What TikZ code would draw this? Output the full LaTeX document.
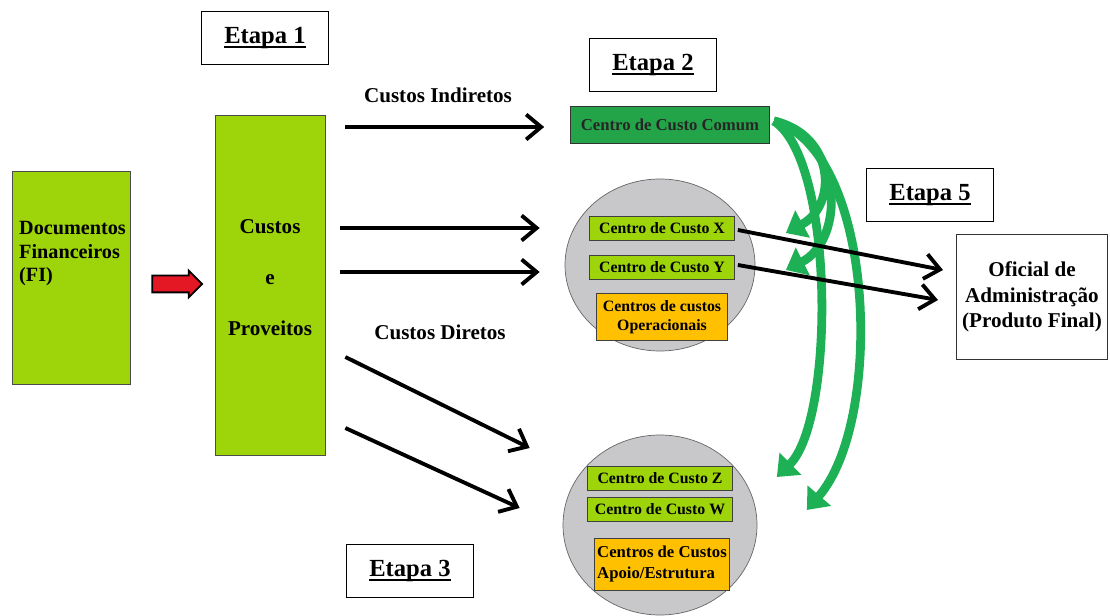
\documentclass[tikz,border=0pt]{standalone}
\usepackage{fontspec}
\setmainfont{Liberation Serif}
\usetikzlibrary{arrows.meta,shapes.geometric,shapes.arrows}
\newcommand{\thickul}[1]{\setbox0\hbox{#1}\rlap{\rule[-2.6pt]{\wd0}{1.2pt}}\box0}
\definecolor{lime}{RGB}{158,212,10}
\definecolor{comum}{RGB}{36,164,72}
\definecolor{arcgreen}{RGB}{30,176,84}
\definecolor{amber}{RGB}{255,192,0}
\definecolor{circgray}{RGB}{200,200,202}
\definecolor{fired}{RGB}{228,24,36}

\begin{document}
\begin{tikzpicture}[x = 0.2mm, y = -0.2mm,
	stagebox/.style = {draw, fill = white, minimum width = 25.5mm, minimum height = 10.5mm, font = \fontsize{14}{16}\selectfont\bfseries},
	limebox/.style = {draw = black!70, fill = lime, font = \fontsize{12}{14.5}\selectfont\bfseries},
	centrebox/.style = {draw = black!75, fill = lime, minimum width = 29mm, minimum height = 4.8mm, inner sep = 1pt, font = \fontsize{9}{10}\selectfont\bfseries},
	amberbox/.style = {draw = black!75, fill = amber, inner sep = 1pt, font = \fontsize{9}{10.5}\selectfont\bfseries},
	pool/.style = {ellipse, draw = black!60, fill = circgray, inner sep = 0pt},
	flowlabel/.style = {font = \fontsize{12}{14}\selectfont\bfseries},
	flow/.style = {line width = 2.2pt, -{Straight Barb[length = 3mm, width = 5mm]}},
	greenflow/.style = {draw = arcgreen, line width = 5pt, -{Triangle[length = 3.8mm, width = 6mm]}}]
	\useasboundingbox (0,0) rectangle (1110,616);
	\node[stagebox] (etapa1) at (265,38) {\thickul{Etapa 1}};
	\node[stagebox] (etapa2) at (653,65) {\thickul{Etapa 2}};
	\node[stagebox] (etapa3) at (410,571) {\thickul{Etapa 3}};
	\node[stagebox] (etapa5) at (930,195) {\thickul{Etapa 5}};
	\node[limebox, minimum width = 23.6mm, minimum height = 42.6mm] (docs) at (71,278) {};
	\node[font = \fontsize{11.5}{13.5}\selectfont\bfseries, align = left, anchor = north west] (docstext) at (13,215) {Documentos\\Financeiros\\(FI)};
	\node[single arrow, draw = black, line width = 1pt, fill = fired, minimum height = 10mm,
		single arrow head extend = 1mm, inner sep = 0pt] (redarrow) at (173,284) {\rule{0pt}{3mm}};
	\node[limebox, minimum width = 22mm, minimum height = 68mm] (prov) at (270,285) {};
	\node[flowlabel, align = center] (provtext) at (270,278) {Custos\\[15pt] e\\[15pt] Proveitos};
	\node[flowlabel] (indiretos) at (438,95) {Custos Indiretos};
	\node[flowlabel] (diretos) at (440,332) {Custos Diretos};
	\node[draw = black!80, fill = comum, minimum width = 39.8mm, minimum height = 7.4mm,
		font = \fontsize{9.5}{11}\selectfont\bfseries, text = black!85] (comum) at (670,125) {Centro de Custo Comum};
	\node[pool, minimum width = 38mm, minimum height = 34.4mm] (opcirc) at (660,265) {};
	\node[pool, minimum width = 38.8mm, minimum height = 36mm] (supcirc) at (660,525) {};
	\node[centrebox] (ccx) at (662,228) {Centro de Custo X};
	\node[centrebox] (ccy) at (662,267) {Centro de Custo Y};
	\node[amberbox, minimum width = 26.2mm, minimum height = 9.4mm, align = center] (operac) at (662,317)
		{Centros de custos\\Operacionais};
	\node[centrebox] (ccz) at (660,478) {Centro de Custo Z};
	\node[centrebox] (ccw) at (660,509) {Centro de Custo W};
	\node[amberbox, minimum width = 27mm, minimum height = 10.4mm, align = left, font = \fontsize{9.5}{12}\selectfont\bfseries] (apoio) at (662,564)
		{Centros de Custos\\Apoio/Estrutura};
	\node[draw = black!80, fill = white, minimum width = 29.8mm, minimum height = 25mm, align = center,
		font = \fontsize{12}{14.5}\selectfont\bfseries] (oficial) at (1032,297)
		{Oficial de\\Administração\\(Produto Final)};
	\draw[greenflow] ([shift = {(4,-4)}]comum.east) .. controls (835,135) and (838,205) .. ([shift = {(51,5)}]ccx.east);
	\draw[greenflow] ([shift = {(4,-4)}]comum.east) .. controls (845,140) and (845,240) .. ([shift = {(51,3)}]ccy.east);
	\draw[greenflow] ([shift = {(4,-4)}]comum.east) .. controls (835,160) and (835,420) .. ([shift = {(44,-1)}]ccz.east);
	\draw[greenflow] ([shift = {(4,-4)}]comum.east) .. controls (875,150) and (885,420) .. ([shift = {(74,1)}]ccw.east);
	\draw[flow] ([shift = {(20,-158)}]prov.east) -- ([shift = {(-26,2)}]comum.west);
	\draw[flow] ([shift = {(15,-57)}]prov.east) -- ([shift = {(-25,-37)}]opcirc.west);
	\draw[flow] ([shift = {(15,-13)}]prov.east) -- ([shift = {(-25,7)}]opcirc.west);
	\draw[flow] ([shift = {(20,72)}]prov.east) -- ([shift = {(-33,-77)}]supcirc.west);
	\draw[flow] ([shift = {(20,143)}]prov.east) -- ([shift = {(-43,-17)}]supcirc.west);
	\draw[flow] ([shift = {(3,2)}]ccx.east) -- ([shift = {(-13,-27)}]oficial.west);
	\draw[flow] ([shift = {(3,-2)}]ccy.east) -- ([shift = {(-18,3)}]oficial.west);
\end{tikzpicture}
\end{document}
